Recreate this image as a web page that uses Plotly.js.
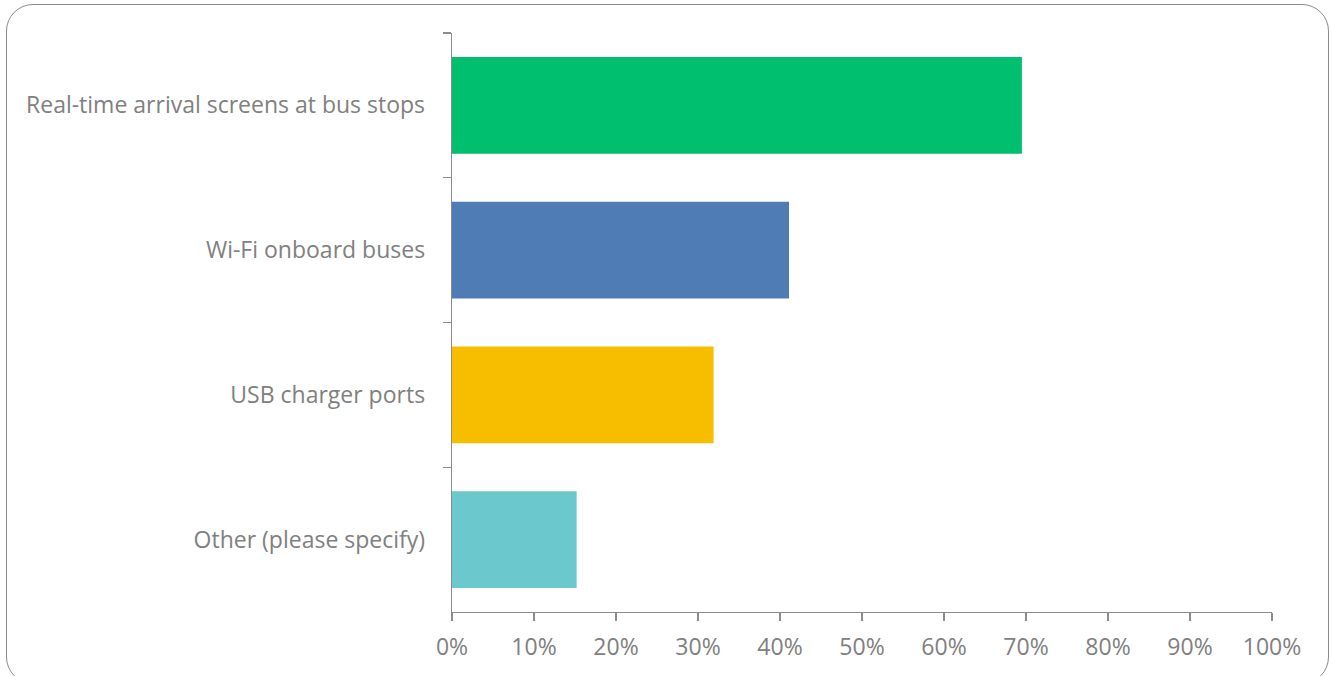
<!DOCTYPE html>
<html>
<head>
<meta charset="utf-8">
<script src="https://cdn.plot.ly/plotly-3.0.1.min.js"></script>
<style>
  html, body { margin: 0; padding: 0; background: #fff; }
  #wrap { position: relative; width: 1332px; height: 676px; }
  #chart { position: absolute; left: 0; top: 0; width: 1332px; height: 676px; }
  #frame { position: absolute; left: 6px; top: 4px; width: 1323px; height: 680px;
           border: 1.3px solid #8a8a8a; border-radius: 27px; pointer-events: none; box-sizing: border-box; }
</style>
</head>
<body>
<div id="wrap">
  <div id="chart"></div>
  <div id="frame"></div>
</div>
<script>
const categories = [
  "Real-time arrival screens at bus stops",
  "Wi-Fi onboard buses",
  "USB charger ports",
  "Other (please specify)"
];
const values = [0.695, 0.411, 0.319, 0.152];
const colors = ["#00BF6F", "#507CB6", "#F7BE00", "#6BC8CD"];
const xTickVals = [0, 0.1, 0.2, 0.3, 0.4, 0.5, 0.6, 0.7, 0.8, 0.9, 1.0];
const xTickText = ["0%", "10%", "20%", "30%", "40%", "50%", "60%", "70%", "80%", "90%", "100%"];

const font = { family: "Open Sans, Liberation Sans, sans-serif", size: 23, color: "#808080" };

const trace = {
  type: "bar",
  orientation: "h",
  y: categories,
  x: values,
  marker: { color: colors, line: { width: 0 } },
  hoverinfo: "skip"
};

const layout = {
  width: 1332,
  height: 676,
  margin: { l: 452, r: 60, t: 33, b: 64, pad: 0 },
  paper_bgcolor: "rgba(0,0,0,0)",
  plot_bgcolor: "rgba(0,0,0,0)",
  bargap: 0.33,
  showlegend: false,
  font: font,
  xaxis: {
    range: [0, 1],
    tickvals: xTickVals,
    ticktext: xTickText,
    showgrid: false,
    zeroline: false,
    showline: true,
    linecolor: "#8c8c8c",
    linewidth: 1.3,
    ticks: "outside",
    ticklen: 8,
    tickcolor: "#8c8c8c",
    tickwidth: 1.3,
    tickfont: font,
    ticklabelstandoff: 6,
    fixedrange: true
  },
  yaxis: {
    type: "category",
    categoryorder: "array",
    categoryarray: categories,
    autorange: "reversed",
    showgrid: false,
    zeroline: false,
    showline: true,
    linecolor: "#8c8c8c",
    linewidth: 1.3,
    ticks: "outside",
    tickson: "boundaries",
    ticklen: 8,
    tickcolor: "#8c8c8c",
    tickwidth: 1.3,
    tickfont: font,
    ticklabelstandoff: 21,
    fixedrange: true
  }
};

Plotly.newPlot("chart", [trace], layout, { displayModeBar: false, staticPlot: true });
</script>
</body>
</html>
